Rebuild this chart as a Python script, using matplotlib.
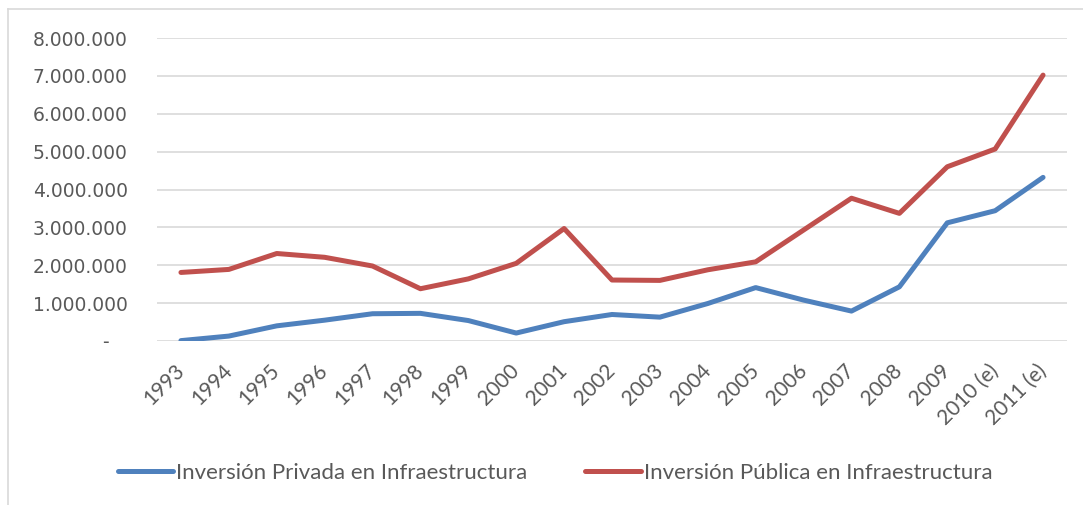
import matplotlib.pyplot as plt
from matplotlib.ticker import FuncFormatter
from matplotlib.lines import Line2D

# --- data ---
years = ['1993', '1994', '1995', '1996', '1997', '1998', '1999', '2000', '2001',
         '2002', '2003', '2004', '2005', '2006', '2007', '2008', '2009',
         '2010 (e)', '2011 (e)']

privada = [10000, 130000, 400000, 550000, 720000, 730000, 540000, 210000, 510000,
           700000, 630000, 990000, 1410000, 1080000, 790000, 1430000, 3120000,
           3440000, 4320000]

publica = [1810000, 1890000, 2310000, 2210000, 1980000, 1380000, 1640000, 2050000, 2970000,
           1610000, 1600000, 1880000, 2090000, 2930000, 3770000, 3370000, 4600000,
           5070000, 7020000]

BLUE = '#4F81BD'
RED = '#C0504D'
GRID = '#D9D9D9'
TEXT = '#595959'


def thousands(v, pos):
    # spanish style separators, '-' for zero like Excel accounting format
    if v == 0:
        return '-   '
    return f'{int(v):,}'.replace(',', '.')


fig = plt.figure(figsize=(10.83, 5.05), dpi=100)
ax = fig.add_axes([157 / 1083, 1 - 341 / 505, 910 / 1083, 303 / 505])

x = list(range(len(years)))
ax.plot(x, privada, color=BLUE, lw=3.6, solid_capstyle='round', solid_joinstyle='round',
        label='Inversión Privada en Infraestructura')
ax.plot(x, publica, color=RED, lw=3.6, solid_capstyle='round', solid_joinstyle='round',
        label='Inversión Pública en Infraestructura')

ax.set_xlim(-0.5, len(years) - 0.5)
ax.set_ylim(0, 8000000)
ax.set_yticks(range(0, 8000001, 1000000))
ax.yaxis.set_major_formatter(FuncFormatter(thousands))
ax.set_xticks(x)
ax.set_xticklabels(years, rotation=45, ha='right', va='center', rotation_mode='anchor',
                   family='Lato', fontsize=15, color=TEXT)

ax.grid(axis='y', color=GRID, lw=1.2)
ax.set_axisbelow(True)
for s in ax.spines.values():
    s.set_visible(False)
ax.tick_params(axis='both', length=0)
ax.tick_params(axis='y', pad=21, labelsize=13.5, labelcolor=TEXT)
ax.tick_params(axis='x', pad=19)

leg = fig.legend(loc='center', bbox_to_anchor=(555 / 1083, 1 - 473 / 505), ncol=2,
                 frameon=False, handlelength=2.5, handletextpad=0.14, columnspacing=2.6,
                 prop={'family': 'Lato', 'size': 16})
for t in leg.get_texts():
    t.set_color(TEXT)

# light chart border (top and left visible in the reference)
fig.add_artist(Line2D([8 / 1083, 1], [1 - 9 / 505, 1 - 9 / 505], color=GRID, lw=1.2))
fig.add_artist(Line2D([8 / 1083, 8 / 1083], [0, 1 - 9 / 505], color=GRID, lw=1.2))

fig.savefig('out.png', dpi=100)
